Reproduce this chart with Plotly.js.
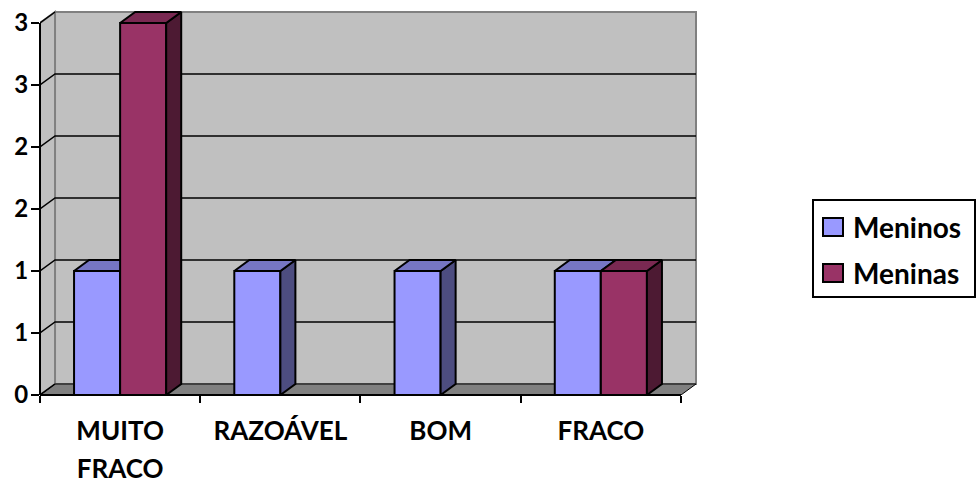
<!DOCTYPE html>
<html>
<head>
<meta charset="utf-8">
<script src="https://cdn.plot.ly/plotly-3.0.1.min.js"></script>
<style>html,body{margin:0;padding:0;background:#fff}</style>
</head>
<body>
<div id="chart" style="width:977px;height:485px"></div>
<script>
// Avaliação por categoria, separada por meninos e meninas
const categories = ['MUITO FRACO', 'RAZOÁVEL', 'BOM', 'FRACO'];
const seriesNames = ['Meninos', 'Meninas'];
const meninos = [1, 1, 1, 1];
const meninas = [3, 0, 0, 1];
const yTickVals = [0, 0.5, 1, 1.5, 2, 2.5, 3];
const yTickText = ['0', '1', '1', '2', '2', '3', '3'];

const seriesValues = [meninos, meninas];

// category labels wrap after the first word
const firstLine = categories.map(c => c.split(' ')[0]);
const secondLine = categories.map(c => c.split(' ').slice(1).join(' '));

// --- plot geometry (pixels) ---
const W = 977, H = 485;
const plotL = 40, plotR = 698, plotT = 10, plotB = 395;
const catPx = 160, valPx = 124;
const DX = 15 / catPx, DY = 11 / valPx;          // depth of the 3-D box
const yTop = yTickVals[yTickVals.length - 1];
const xLo = -0.5, xHi = categories.length - 0.5;
const barW = 0.2875;
const xRange = [xLo, xHi + DX + 2 / catPx];
const yRange = [0, yTop + DY + 2 / valPx];

const palettes = [
  { front: '#9999FF', top: '#7676C4', side: '#4D4D80' },
  { front: '#993366', top: '#7A2952', side: '#4D1A33' }
];

const FONT = 'Lato, "Open Sans", sans-serif';
const idx = categories.map((_, i) => i);

// each series lives on its own overlaid y axis so that the second series
// is painted over the first one's depth faces
const traces = [];
seriesValues.forEach((vals, s) => {
  const yax = s === 0 ? 'y' : 'y2';
  const off = s === 0 ? -barW : 0;
  const pal = palettes[s];
  traces.push({
    type: 'bar', name: seriesNames[s], x: idx, y: vals, yaxis: yax,
    offset: off, width: barW,
    marker: { color: pal.front, line: { color: '#000', width: 2 } },
    showlegend: false, hoverinfo: 'skip'
  });
  vals.forEach((v, i) => {
    if (!v) return;
    const xl = i + off, xr = xl + barW;
    traces.push({
      type: 'scatter', mode: 'lines', yaxis: yax, fill: 'toself',
      x: [xr, xr + DX, xr + DX, xr, xr],
      y: [0, DY, v + DY, v, 0],
      fillcolor: pal.side, line: { color: '#000', width: 2 },
      showlegend: false, hoverinfo: 'skip'
    });
    traces.push({
      type: 'scatter', mode: 'lines', yaxis: yax, fill: 'toself',
      x: [xl, xl + DX, xr + DX, xr, xl],
      y: [v, v + DY, v + DY, v, v],
      fillcolor: pal.top, line: { color: '#000', width: 2 },
      showlegend: false, hoverinfo: 'skip'
    });
  });
});
// empty trace that attaches the second-line label axis
traces.push({ type: 'scatter', mode: 'lines', x: [null], y: [null],
  xaxis: 'x2', yaxis: 'y', showlegend: false, hoverinfo: 'skip' });

// walls, floor and grid of the 3-D box
const shapes = [];
shapes.push({ type: 'rect', layer: 'below', xref: 'x', yref: 'y',
  x0: xLo + DX, x1: xHi + DX, y0: DY, y1: yTop + DY,
  fillcolor: '#C0C0C0', line: { color: '#808080', width: 2 } });
shapes.push({ type: 'path', layer: 'below', xref: 'x', yref: 'y',
  path: `M${xLo},0 L${xLo + DX},${DY} L${xLo + DX},${yTop + DY} L${xLo},${yTop} Z`,
  fillcolor: '#C0C0C0', line: { color: '#808080', width: 2 } });
shapes.push({ type: 'path', layer: 'below', xref: 'x', yref: 'y',
  path: `M${xLo},0 L${xHi},0 L${xHi + DX},${DY} L${xLo + DX},${DY} Z`,
  fillcolor: '#808080', line: { color: '#000', width: 1 } });
yTickVals.forEach(v => {
  const back = (v > 0 && v < yTop) ? ` L${xHi + DX},${v + DY}` : '';
  shapes.push({ type: 'path', layer: 'below', xref: 'x', yref: 'y',
    path: `M${xLo},${v} L${xLo + DX},${v + DY}${back}`,
    line: { color: '#000', width: 1.5 } });
});
// front axis lines
shapes.push({ type: 'line', layer: 'above', xref: 'paper', yref: 'y',
  x0: 0, x1: 0, y0: 0, y1: yTop, line: { color: '#000', width: 2 } });
shapes.push({ type: 'line', layer: 'above', xref: 'x', yref: 'paper',
  x0: xLo, x1: xHi, y0: 0, y1: 0, line: { color: '#000', width: 2 } });

// legend box
const pw = plotR - plotL, ph = plotB - plotT;
const px = p => (p - plotL) / pw;
const py = p => (plotB - p) / ph;
shapes.push({ type: 'rect', xref: 'paper', yref: 'paper',
  x0: px(813), x1: px(975), y0: py(297), y1: py(200),
  fillcolor: '#fff', line: { color: '#000', width: 2 } });
const annotations = [];
const rowY = [227, 273];
seriesNames.forEach((n, s) => {
  shapes.push({ type: 'rect', xref: 'paper', yref: 'paper',
    x0: px(823), x1: px(843), y0: py(rowY[s] + 9), y1: py(rowY[s] - 9),
    fillcolor: palettes[s].front, line: { color: '#000', width: 2 } });
  annotations.push({ xref: 'paper', yref: 'paper', x: px(851), y: py(rowY[s]),
    xanchor: 'left', yanchor: 'middle', text: n, showarrow: false,
    font: { family: FONT, size: 28, weight: 'bold', color: '#000' } });
});

const tickFont = { family: FONT, size: 26, weight: 'bold', color: '#000' };
const layout = {
  width: W, height: H,
  margin: { l: plotL, r: W - plotR, t: plotT, b: H - plotB, pad: 0 },
  paper_bgcolor: '#fff', plot_bgcolor: 'rgba(0,0,0,0)',
  showlegend: false,
  xaxis: {
    range: xRange, fixedrange: true,
    tickvals: idx, ticktext: firstLine, ticks: '', ticklabelstandoff: 18,
    minor: { tickvals: categories.map((_, i) => i - 0.5).concat([xHi]),
      ticks: 'outside', ticklen: 7, tickwidth: 2, tickcolor: '#000', showgrid: false },
    showgrid: false, zeroline: false, showline: false,
    tickfont: tickFont
  },
  xaxis2: {
    overlaying: 'x', anchor: 'y', side: 'bottom', range: xRange, fixedrange: true,
    tickvals: idx, ticktext: secondLine, ticks: '', ticklabelstandoff: 56,
    showgrid: false, zeroline: false, showline: false,
    tickfont: tickFont
  },
  yaxis: {
    range: yRange, fixedrange: true,
    tickvals: yTickVals, ticktext: yTickText,
    ticks: 'outside', ticklen: 8, tickwidth: 2, tickcolor: '#000',
    ticklabelstandoff: -2,
    showgrid: false, zeroline: false, showline: false,
    tickfont: { family: FONT, size: 24, weight: 'bold', color: '#000' }
  },
  yaxis2: {
    overlaying: 'y', range: yRange, fixedrange: true,
    visible: false, showgrid: false, zeroline: false
  },
  shapes: shapes,
  annotations: annotations
};

Plotly.newPlot('chart', traces, layout, { displayModeBar: false, staticPlot: true });
</script>
</body>
</html>
